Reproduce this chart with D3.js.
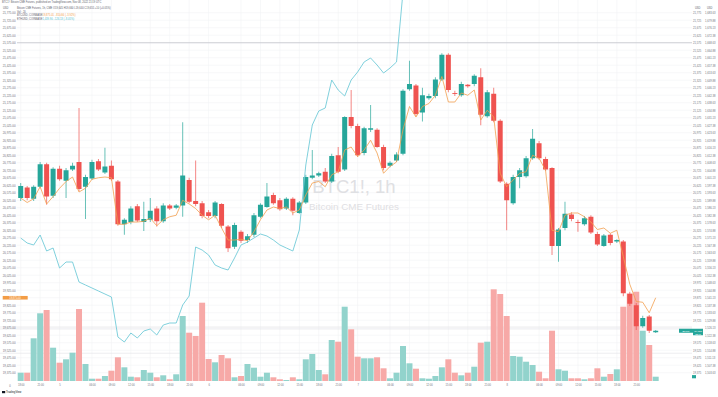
<!DOCTYPE html>
<html>
<head>
<meta charset="utf-8">
<script src="https://cdn.jsdelivr.net/npm/d3@7"></script>
<style>
  html, body { margin: 0; padding: 0; background: #fff; }
  svg { display: block; font-family: "Liberation Sans", Arial, sans-serif; }
</style>
</head>
<body>
<div id="chart"></div>
<script>
// BTC1! 1h candles (USD)
const opens = [20540,20610,20535,20615,20765,20555,20735,20655,20730,20780,
  20615,20670,20785,20710,20755,20650,20365,20380,20485,20380,
  20395,20470,20385,20490,20475,20490,20660,20520,20505,20445,
  20420,20500,20350,20215,20315,20260,20295,20415,20480,20560,
  20525,20470,20535,20440,20510,20675,20690,20715,20650,20825,
  20730,21080,21020,20840,20995,20995,20880,20755,20790,20835,
  21265,21290,21110,21205,21220,21330,21495,21240,21225,21295,
  21300,21345,21085,21235,21055,20635,20505,20680,20685,20805,
  20905,20800,20740,20220,20340,20430,20380,20365,20415,20300,
  20220,20295,20250,20250,19900,19825,19685,19750,19645];
const highs = [20640,20620,20625,20780,20775,20745,20755,20740,20775,21140,
  20695,20795,20800,20875,20790,20660,20405,20485,20500,20515,
  20540,20485,20505,20500,20500,21045,20675,20790,20520,20460,
  20520,20505,20360,20375,20325,20300,20440,20505,20640,20575,
  20540,20545,20545,20520,20695,20860,20715,20740,20835,20880,
  21085,21260,21035,21015,21160,21005,20895,20785,20845,21265,
  21455,21300,21275,21235,21345,21505,21505,21255,21315,21300,
  21365,21405,21260,21275,21065,20645,20695,20740,20820,21000,
  20920,20815,20745,20340,20515,20445,20395,20420,20425,20315,
  20300,20305,20265,20260,19915,19840,19755,19760,19660];
const lows = [20520,20525,20520,20605,20495,20540,20655,20540,20720,20585,
  20400,20660,20720,20700,20655,20355,20295,20365,20380,20320,
  20380,20350,20375,20460,20465,20415,20505,20485,20405,20405,
  20405,20340,20180,20200,20240,20240,20280,20405,20475,20495,
  20455,20460,20425,20435,20500,20665,20680,20640,20640,20705,
  20720,21005,20815,20825,20980,20875,20725,20745,20780,20825,
  21255,21085,21050,21195,21205,21320,21245,21220,21215,21275,
  21285,21025,21075,21045,20640,20325,20495,20605,20675,20795,
  20795,20720,20160,20115,20325,20385,20315,20355,20300,20220,
  20215,20225,20240,19885,19820,19660,19675,19640,19640];
const closes = [20620,20540,20615,20765,20550,20735,20665,20725,20755,20600,
  20680,20780,20730,20750,20665,20365,20395,20470,20390,20400,
  20455,20385,20490,20470,20490,20690,20515,20500,20420,20420,
  20510,20355,20205,20360,20255,20285,20425,20495,20550,20505,
  20465,20535,20455,20510,20680,20690,20705,20650,20820,20715,
  21080,21020,20825,21005,21005,20880,20740,20775,20830,21255,
  21300,21100,21225,21220,21330,21495,21260,21235,21300,21285,
  21355,21095,21245,21055,20650,20525,20680,20725,20805,20935,
  20805,20730,20220,20330,20435,20400,20375,20405,20310,20230,
  20290,20240,20260,19905,19835,19685,19740,19655,19655];
// volume (contracts)
const volumes = [166,166,854,1354,1420,666,366,434,566,1440,
  340,46,46,100,206,474,274,86,74,220,
  166,74,114,34,134,1300,966,900,1566,440,
  374,520,454,74,100,340,266,86,166,74,
  34,20,74,34,434,540,220,134,820,786,
  1486,1034,486,454,454,474,254,54,166,700,
  354,246,54,46,100,274,434,166,114,166,
  286,766,786,1834,1740,1300,500,486,386,320,
  186,54,1006,234,206,54,54,34,54,254,
  86,140,234,1486,1754,1786,1006,720,86];
// compare symbols
const btcusd = [20540,20510,20535,20615,20500,20550,20605,20650,20680,20580,
  20605,20665,20675,20680,20675,20365,20365,20380,20380,20385,
  20405,20355,20395,20415,20425,20525,20500,20470,20425,20395,
  20425,20340,20260,20260,20265,20255,20315,20395,20460,20480,
  20470,20480,20440,20460,20560,20640,20650,20615,20695,20715,
  20860,20880,20815,20860,20925,20840,20705,20750,20780,20995,
  21150,21080,21150,21170,21225,21350,21180,21180,21240,21225,
  21260,21060,21125,21080,20705,20615,20660,20705,20715,20825,
  20805,20725,20325,20315,20425,20440,20440,20415,20380,20330,
  20340,20305,20325,20150,19965,19850,19845,19775,19875];
const ethusd = [1571,1568.5,1567.5,1572.5,1564.5,1566,1556,1559,1559,1549,
  1547.5,1546,1544.5,1543,1541.5,1521.5,1519,1523.5,1521,1524.5,
  1525.5,1522.5,1527.5,1528.5,1528.5,1537.5,1542,1566.5,1565,1562.5,
  1557.5,1556,1555,1561,1567.5,1569,1571,1573,1572,1570,
  1567.5,1566,1564.5,1575,1607.5,1627.5,1634.5,1636,1650,1645,
  1642,1650,1654,1659,1661,1657.5,1653.5,1656,1659,1694];

const timeTicks = [0,3,6,11,14,17,20,23,26,29,34,37,40,43,46,49,52,57,60,63,66,69,72,75,80,83,86,89,92,95];
const timeLabels = ["18:00","21:00","5","06:00","09:00","12:00","15:00","18:00","21:00","6",
  "06:00","09:00","12:00","15:00","18:00","21:00","7","06:00","09:00","12:00",
  "15:00","18:00","21:00","8","06:00","09:00","12:00","15:00","18:00","21:00"];
const priceTicks = d3.range(19375, 21800, 50);

const W = 718, H = 397;
const UP = '#26a69a', DOWN = '#ef5350';
const UP_VOL = '#92d3cc', DOWN_VOL = '#f7a9a7';

const svg = d3.select('#chart').append('svg')
  .attr('width', W).attr('height', H)
  .attr('viewBox', [0, 0, W, H].join(' '));

const x = d3.scaleLinear().domain([0, closes.length - 1]).range([20.7, 655.7]);
const y = d3.scaleLinear().domain([19400, 21800]).range([369, 9]);
const yEth = d3.scaleLinear().domain([1500, 1690]).range([380, 0]);
const yVol = d3.scaleLinear().domain([0, 2000]).range([381, 281]);

const lastBtc = btcusd[btcusd.length - 1];
const lastClose = closes[closes.length - 1];

// grid
const grid = svg.append('g').attr('stroke', '#f2f3f5').attr('stroke-width', 0.6);
grid.selectAll('.gh').data(priceTicks).enter().append('line')
  .attr('x1', 17).attr('x2', 692).attr('y1', d => y(d)).attr('y2', d => y(d));
grid.selectAll('.gv').data(timeTicks).enter().append('line')
  .attr('x1', d => x(d)).attr('x2', d => x(d)).attr('y1', 0).attr('y2', 381);

// horizontal reference lines
svg.append('line').attr('x1', 17).attr('x2', 692)
  .attr('y1', y(21575)).attr('y2', y(21575))
  .attr('stroke', '#c3c5cb').attr('stroke-width', 0.8);
[19680, 19667, 19505].forEach(p => {
  svg.append('line').attr('x1', 0).attr('x2', 692)
    .attr('y1', y(p)).attr('y2', y(p))
    .attr('stroke', '#e2e3e6').attr('stroke-width', 0.6);
});

// watermark
svg.append('text').attr('x', 354).attr('y', 193)
  .attr('text-anchor', 'middle').attr('font-size', 18.5)
  .attr('fill', '#dfe0e3').text('BTC1!, 1h');
svg.append('text').attr('x', 354).attr('y', 210)
  .attr('text-anchor', 'middle').attr('font-size', 9.8)
  .attr('fill', '#dfe0e3').text('Bitcoin CME Futures');

const idx = d3.range(closes.length);

// volume
svg.append('g').selectAll('rect').data(idx).enter().append('rect')
  .attr('x', i => x(i) - 3)
  .attr('width', 6)
  .attr('y', i => yVol(volumes[i]))
  .attr('height', i => yVol(0) - yVol(volumes[i]))
  .attr('fill', i => closes[i] >= opens[i] ? UP_VOL : DOWN_VOL);

// candles
const candles = svg.append('g');
candles.selectAll('line').data(idx).enter().append('line')
  .attr('x1', i => x(i)).attr('x2', i => x(i))
  .attr('y1', i => y(highs[i])).attr('y2', i => y(lows[i]))
  .attr('stroke', i => closes[i] >= opens[i] ? UP : DOWN)
  .attr('stroke-width', 0.7);
candles.selectAll('rect').data(idx).enter().append('rect')
  .attr('x', i => x(i) - 2.5)
  .attr('width', 5)
  .attr('y', i => y(Math.max(opens[i], closes[i])))
  .attr('height', i => Math.max(0.9, Math.abs(y(opens[i]) - y(closes[i]))))
  .attr('fill', i => closes[i] >= opens[i] ? UP : DOWN);

// compare lines
svg.append('path').datum(ethusd)
  .attr('fill', 'none').attr('stroke', '#72cbd8').attr('stroke-width', 0.9)
  .attr('d', d3.line().x((d, i) => x(i)).y(d => yEth(d)));
svg.append('path').datum(btcusd)
  .attr('fill', 'none').attr('stroke', '#f3a04f').attr('stroke-width', 0.8)
  .attr('d', d3.line().x((d, i) => x(i)).y(d => y(d)));

// left price axis (tick under the last-value tag is hidden, as TradingView does)
const leftTicks = priceTicks.filter(p => Math.abs(y(p) - y(lastBtc)) > 4);
const axL = svg.append('g').attr('transform', 'translate(15.5,0)')
  .call(d3.axisLeft(y).tickValues(leftTicks).tickFormat(d3.format(',.2f')).tickSize(0).tickPadding(0));
axL.select('.domain').remove();
axL.selectAll('text').attr('font-size', 2.9).attr('fill', '#6f727c')
  .attr('font-family', '"Liberation Sans", Arial, sans-serif');

// right axes (two columns)
const rightTicks = priceTicks.filter(p => Math.abs(y(p) - y(lastClose)) > 4.5);
const axR1 = svg.append('g').attr('transform', 'translate(693,0)')
  .call(d3.axisRight(y).tickValues(rightTicks).tickFormat(d3.format(',.0f')).tickSize(0).tickPadding(0));
axR1.select('.domain').remove();
axR1.selectAll('text').attr('font-size', 2.7).attr('fill', '#6f727c')
  .attr('font-family', '"Liberation Sans", Arial, sans-serif');
const axR2 = svg.append('g').attr('transform', 'translate(705,0)')
  .call(d3.axisRight(yEth).tickValues(priceTicks.map(p => yEth.invert(y(p))))
    .tickFormat(d3.format(',.2f')).tickSize(0).tickPadding(0));
axR2.select('.domain').remove();
axR2.selectAll('text').attr('font-size', 2.7).attr('fill', '#6f727c')
  .attr('font-family', '"Liberation Sans", Arial, sans-serif');

// time axis
const axB = svg.append('g').attr('transform', 'translate(0,383.5)')
  .call(d3.axisBottom(x).tickValues(timeTicks).tickFormat((d, i) => timeLabels[i]).tickSize(0).tickPadding(1));
axB.select('.domain').remove();
axB.selectAll('text').attr('font-size', 2.6).attr('fill', '#6f727c')
  .attr('font-family', '"Liberation Sans", Arial, sans-serif');
svg.append('text').attr('x', 10).attr('y', 386.5).attr('font-size', 2.6)
  .attr('fill', '#6f727c').attr('text-anchor', 'middle').text('0');

// last-value labels
svg.append('rect').attr('x', 2.7).attr('y', y(lastBtc) - 1.8).attr('width', 25).attr('height', 3.6)
  .attr('fill', '#f39c45');
svg.append('text').attr('x', 15).attr('y', y(lastBtc) + 0.9).attr('font-size', 2.6)
  .attr('text-anchor', 'middle').attr('fill', '#fff').text(d3.format(',.2f')(lastBtc));

svg.append('rect').attr('x', 679).attr('y', y(lastClose) - 2).attr('width', 14).attr('height', 4)
  .attr('fill', '#26a69a');
svg.append('text').attr('x', 686).attr('y', y(lastClose) + 0.9).attr('font-size', 2.5)
  .attr('text-anchor', 'middle').attr('fill', '#fff').text('BTC1!');
svg.append('rect').attr('x', 693).attr('y', y(lastClose) - 2).attr('width', 10).attr('height', 6.5)
  .attr('fill', '#26a69a');
svg.append('text').attr('x', 698).attr('y', y(lastClose) + 0.9).attr('font-size', 2.5)
  .attr('text-anchor', 'middle').attr('fill', '#fff').text(d3.format(',.0f')(lastClose));
svg.append('text').attr('x', 698).attr('y', y(lastClose) + 3.8).attr('font-size', 2.3)
  .attr('text-anchor', 'middle').attr('fill', '#fff').text('22:41');
svg.append('rect').attr('x', 692).attr('y', yVol(volumes[volumes.length - 1]) - 1.6)
  .attr('width', 4).attr('height', 3.2).attr('fill', '#26a69a');

// header / legend
const hdr = svg.append('g').attr('font-size', 2.6).attr('fill', '#5d606b');
hdr.append('text').attr('x', 2).attr('y', 3.4)
  .text('BTC1!: Bitcoin CME Futures, published on TradingView.com, Nov 08, 2022 21:19 UTC');
hdr.append('text').attr('x', 3).attr('y', 8.9).text('USD');
hdr.append('text').attr('x', 17).attr('y', 8.9)
  .text('Bitcoin CME Futures, 1h, CME   O19,645 H19,660 L19,640 C19,655 +10 (+0.05%)');
hdr.append('text').attr('x', 17).attr('y', 12.6).text('Vol · 20');
hdr.append('text').attr('x', 17).attr('y', 16.2).text('BTCUSD, COINBASE');
hdr.append('text').attr('x', 42.5).attr('y', 16.2).attr('fill', '#f39c45').text('19,875.01  −810.66 (−3.92%)');
hdr.append('text').attr('x', 17).attr('y', 19.6).text('ETHUSD, COINBASE');
hdr.append('text').attr('x', 42.5).attr('y', 19.6).attr('fill', '#4fc0d0').text('1,439.90  −126.13 (−8.05%)');
hdr.append('text').attr('x', 695).attr('y', 8.9).text('USD');
hdr.append('text').attr('x', 707).attr('y', 8.9).text('USD');

// footer logo
svg.append('rect').attr('x', 2).attr('y', 391).attr('width', 3.2).attr('height', 2.2).attr('fill', '#131722');
svg.append('text').attr('x', 6).attr('y', 393.2).attr('font-size', 2.8)
  .attr('fill', '#131722').text('TradingView');
</script>
</body>
</html>
